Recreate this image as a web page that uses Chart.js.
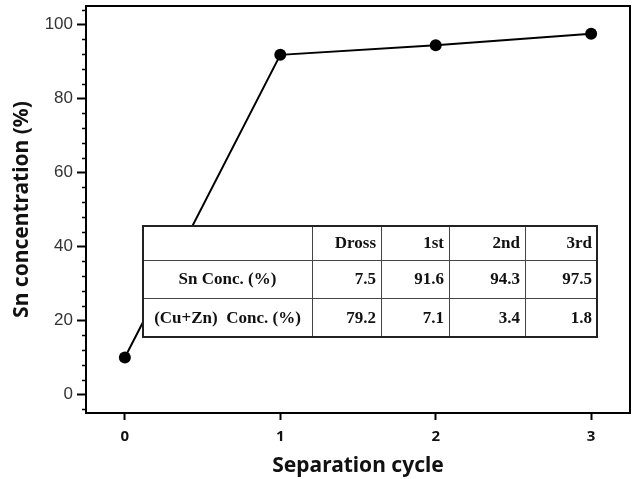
<!DOCTYPE html>
<html>
<head>
<meta charset="utf-8">
<script src="https://cdn.jsdelivr.net/npm/chart.js@4"></script>
<style>
  body { margin: 0; background: #fff; }
  #wrap { width: 635px; height: 479px; }
</style>
</head>
<body>
<div id="wrap"><canvas id="snChart" width="635" height="479"></canvas></div>
<script>
// series
const cycles = [0, 1, 2, 3];
const snPoint = [10, 91.8, 94.4, 97.5];
const yTicks = [0, 20, 40, 60, 80, 100];
const yMinorStep = 4;

// inset table
const tableCols = ['Dross', '1st', '2nd', '3rd'];
const snConc = [7.5, 91.6, 94.3, 97.5];
const cuZnConc = [79.2, 7.1, 3.4, 1.8];
const tableRows = ['Sn Conc. (%)', '(Cu+Zn)  Conc. (%)'];

const frame = {
    id: 'frame',
    afterDraw(chart) {
        const {ctx, chartArea: a} = chart;
        const ys = chart.scales.y;
        ctx.save();
        ctx.strokeStyle = '#000';
        ctx.lineWidth = 2;
        ctx.strokeRect(a.left, a.top, a.right - a.left, a.bottom - a.top);
        // minor ticks on y
        ctx.lineWidth = 1.5;
        for (let v = ys.min + 1; v <= ys.max; v += yMinorStep) {
            if (yTicks.includes(v)) continue;
            const py = Math.round(ys.getPixelForValue(v)) + 0.5;
            ctx.beginPath();
            ctx.moveTo(a.left - 4, py);
            ctx.lineTo(a.left, py);
            ctx.stroke();
        }
        ctx.restore();
    }
};

const insetTable = {
    id: 'insetTable',
    afterDatasetsDraw(chart) {
        const {ctx, chartArea: a} = chart;
        const w = a.right - a.left, h = a.bottom - a.top;
        const colX = [143, 312, 381, 449, 525, 597].map(x => a.left + (x - 86) / 544 * w);
        const rowY = [226, 260, 298, 337].map(y => a.top + (y - 6) / 407 * h);
        ctx.save();
        ctx.fillStyle = '#fff';
        ctx.fillRect(colX[0], rowY[0], colX[5] - colX[0], rowY[3] - rowY[0]);
        // inner lines
        ctx.strokeStyle = '#444';
        ctx.lineWidth = 1;
        for (let i = 1; i < 3; i++) {
            ctx.beginPath();
            ctx.moveTo(colX[0], Math.round(rowY[i]) + 0.5);
            ctx.lineTo(colX[5], Math.round(rowY[i]) + 0.5);
            ctx.stroke();
        }
        for (let i = 1; i < 5; i++) {
            ctx.beginPath();
            ctx.moveTo(Math.round(colX[i]) + 0.5, rowY[0]);
            ctx.lineTo(Math.round(colX[i]) + 0.5, rowY[3]);
            ctx.stroke();
        }
        ctx.strokeStyle = '#222';
        ctx.lineWidth = 2;
        ctx.strokeRect(colX[0], rowY[0], colX[5] - colX[0], rowY[3] - rowY[0]);

        ctx.fillStyle = '#111';
        ctx.font = 'bold 17px "Liberation Serif", "Times New Roman", serif';
        ctx.textBaseline = 'middle';
        const rows = [tableCols, snConc.map(v => v.toFixed(1)), cuZnConc.map(v => v.toFixed(1))];
        rows.forEach((cells, r) => {
            const cy = (rowY[r] + rowY[r + 1]) / 2 + 1;
            if (r > 0) {
                ctx.textAlign = 'center';
                ctx.fillText(tableRows[r - 1], (colX[0] + colX[1]) / 2, cy);
            }
            ctx.textAlign = 'right';
            cells.forEach((t, c) => ctx.fillText(t, colX[c + 2] - 5, cy));
        });
        ctx.restore();
    }
};

new Chart(document.getElementById('snChart'), {
    type: 'line',
    data: {
        datasets: [{
            data: cycles.map((c, i) => ({x: c, y: snPoint[i]})),
            borderColor: '#000',
            backgroundColor: '#000',
            borderWidth: 2,
            pointRadius: 6,
            pointBackgroundColor: '#000',
            pointBorderWidth: 0,
            tension: 0
        }]
    },
    options: {
        responsive: false,
        animation: false,
        layout: {autoPadding: false, padding: {top: 6, right: 5, left: 0, bottom: 0}},
        plugins: {legend: {display: false}, tooltip: {enabled: false}},
        scales: {
            x: {
                type: 'linear',
                min: -0.25,
                max: 3.25,
                afterBuildTicks: s => { s.ticks = cycles.map(v => ({value: v})); },
                afterFit: s => { s.height = 66; s.paddingLeft = 0; s.paddingRight = 0; },
                grid: {drawOnChartArea: false, tickLength: 7, tickWidth: 2, tickColor: '#000'},
                border: {color: '#000', width: 2},
                ticks: {color: '#111', padding: 8, font: {family: '"Noto Sans", "Liberation Sans", sans-serif', size: 15, weight: 'bold'}},
                title: {
                    display: true,
                    text: 'Separation cycle',
                    color: '#111',
                    padding: {top: 0, bottom: 0},
                    font: {family: '"Noto Sans", sans-serif', size: 21, weight: 'bold'}
                }
            },
            y: {
                min: -5,
                max: 105,
                afterBuildTicks: s => { s.ticks = yTicks.map(v => ({value: v})); },
                afterFit: s => { s.width = 86; s.paddingTop = 0; s.paddingBottom = 0; },
                grid: {drawOnChartArea: false, tickLength: 9, tickWidth: 2, tickColor: '#000'},
                border: {color: '#000', width: 2},
                ticks: {color: '#333', padding: 4, font: {family: '"Liberation Sans", Arial, sans-serif', size: 17}},
                title: {
                    display: true,
                    text: 'Sn concentration (%)',
                    color: '#111',
                    padding: {top: 9, bottom: 0},
                    font: {family: '"Noto Sans", sans-serif', size: 21, weight: 'bold'}
                }
            }
        }
    },
    plugins: [frame, insetTable]
});
</script>
</body>
</html>
